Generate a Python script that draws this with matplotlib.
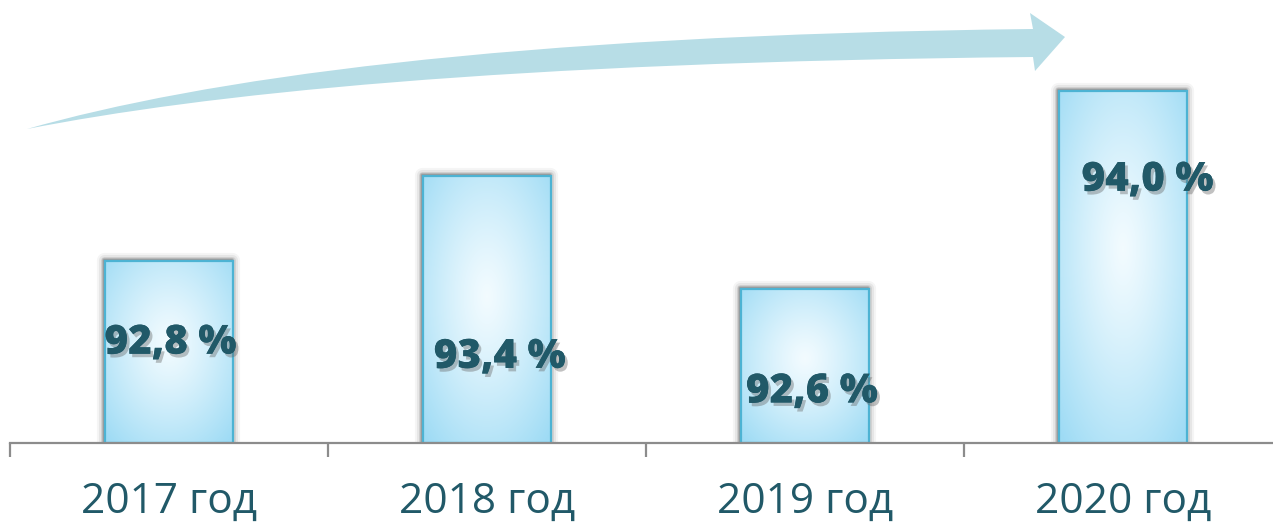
import numpy as np
import matplotlib
matplotlib.use("Agg")
import matplotlib.pyplot as plt
import matplotlib.patheffects as pe
from matplotlib.patches import Rectangle, PathPatch
from matplotlib.path import Path

# data
years = ["2017 год", "2018 год", "2019 год", "2020 год"]
shares = [92.8, 93.4, 92.6, 94.0]
labels = ["92,8 %", "93,4 %", "92,6 %", "94,0 %"]

# hand placed label anchors (data units)
label_dx = [0.005, 0.04, 0.022, 0.077]
label_y = [92.22, 92.12, 91.876, 93.37]

plt.rcParams['font.family'] = ['Open Sans', 'DejaVu Sans']

W, H = 1273, 526
fig = plt.figure(figsize=(W / 100, H / 100), dpi=100)
ax = fig.add_axes([10 / W, (H - 443) / H, 1272 / W, 443 / H])

ymin, ymax = 91.516, 94.642
ax.set_xlim(-0.5, 3.5)
ax.set_ylim(ymin, ymax)

bar_w = 0.4
text_col = "#215968"
edge_col = "#4DB3D3"

# radial gradient used for every bar
gy, gx = np.mgrid[0:1:200j, 0:1:100j]


def bar_gradient(h):
    # centre a bit below middle, ellipse follows bar shape
    r = np.sqrt(((gx - 0.5) / 0.72) ** 2 + ((gy - 0.45) / 0.72) ** 2)
    r = np.clip(r, 0, 1)
    c0 = np.array([0.95, 0.985, 1.0])
    c1 = np.array([0.62, 0.86, 0.96])
    return c0 + (c1 - c0) * r[..., None] ** 1.2


for i, v in enumerate(shares):
    x0 = i - bar_w / 2
    # soft shadow
    for lw, a in [(11, 0.04), (8, 0.06), (5, 0.09), (3, 0.12), (1.5, 0.15)]:
        sh = Rectangle((x0 - 0.003, ymin), bar_w, v - ymin + 0.01,
                       facecolor="none", edgecolor="black", lw=lw,
                       alpha=a, zorder=1, joinstyle="round")
        ax.add_patch(sh)
    rect = Rectangle((x0, ymin), bar_w, v - ymin, facecolor="white",
                     edgecolor="none", zorder=2)
    ax.add_patch(rect)
    im = ax.imshow(bar_gradient(v - ymin), extent=(x0, x0 + bar_w, ymin, v),
                   origin="upper", aspect="auto", zorder=3,
                   interpolation="bilinear")
    im.set_clip_path(rect)
    ax.add_patch(Rectangle((x0, ymin), bar_w, v - ymin, facecolor="none",
                           edgecolor=edge_col, lw=1.6, zorder=4))
    ax.text(i + label_dx[i], label_y[i], labels[i], ha="center", va="center",
            fontsize=29, fontweight=800, color=text_col, zorder=6,
            path_effects=[pe.withSimplePatchShadow(offset=(2, -2.5),
                                                   shadow_rgbFace="#666666",
                                                   alpha=0.4),
                          pe.Normal()])

# axis styling
for s in ["top", "right", "left"]:
    ax.spines[s].set_visible(False)
ax.spines["bottom"].set_color("#8C8C8C")
ax.spines["bottom"].set_linewidth(1.6)
ax.spines["bottom"].set_zorder(5)
ax.set_yticks([])
ax.set_xticks(range(len(years)))
ax.set_xticklabels(years, fontsize=30.5, color=text_col)
ax.tick_params(axis="x", which="major", length=0, pad=27)
ax.set_xticks(np.arange(-0.5, 4, 1), minor=True)
ax.tick_params(axis="x", which="minor", length=10, width=1.6,
               color="#8C8C8C", direction="out")

# decorative curved growth arrow (pixel coords -> figure fraction)
def px(x, y):
    return (x / W, 1 - y / H)


verts = [px(27, 129), px(200, 80), px(500, 35), px(1033, 29),
         px(1030, 13), px(1065, 37), px(1035, 71), px(1033, 57),
         px(500, 62), px(200, 95), px(27, 129), px(27, 129)]
codes = [Path.MOVETO, Path.CURVE4, Path.CURVE4, Path.CURVE4,
         Path.LINETO, Path.LINETO, Path.LINETO, Path.LINETO,
         Path.CURVE4, Path.CURVE4, Path.CURVE4, Path.CLOSEPOLY]
arrow = PathPatch(Path(verts, codes), transform=fig.transFigure,
                  facecolor="#B7DDE6", edgecolor="none", zorder=0)
fig.patches.append(arrow)

fig.savefig("out.png", dpi=100)
